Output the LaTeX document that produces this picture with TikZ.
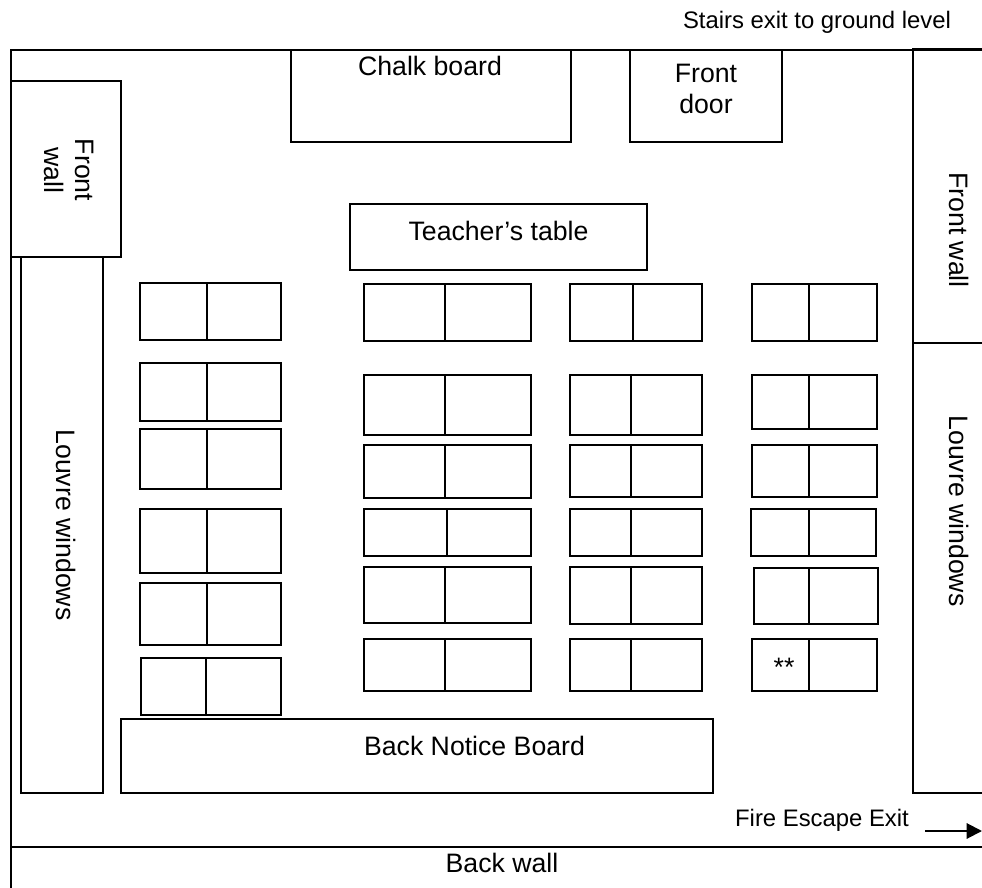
\documentclass[tikz,border=0pt]{standalone}
\usepackage{fontspec}
\setmainfont{Liberation Sans}
\usetikzlibrary{arrows.meta}
\tikzset{%
	room line/.style={
		draw,
		line width=1.2pt
	},
	heavy line/.style={
		draw,
		line width=1.6pt
	},
	room label/.style={
		inner sep=0pt,
		anchor=base,
		font=\fontsize{20}{23.3}\selectfont
	},
	small label/.style={
		room label,
		font=\fontsize{17.9}{21}\selectfont
	},
	side label/.style={
		room label,
		rotate=-90
	},
}

\begin{document}
\begin{tikzpicture}[x=0.75pt, y=-0.75pt]
	\useasboundingbox (0,0) rectangle (982,888);
	% room outline
	\draw[heavy line] (11,888) -- (11,50) -- (982,50);
	\draw[heavy line] (11,847) -- (982,847);
	% side walls and windows
	\draw[room line, fill=white] (11,81) rectangle (121,257);
	\draw[room line] (21,257) rectangle (103,793);
	\draw[room line] (982,49) -- (913,49) -- (913,793) -- (982,793);
	\draw[room line] (913,343) -- (982,343);
	% front and back
	\draw[heavy line] (291,50) rectangle (571,142);
	\draw[heavy line] (630,50) rectangle (782,142);
	\draw[room line] (350,204) rectangle (647,270);
	\draw[room line] (121,719) rectangle (713,793);
	% desks
	\foreach \xa/\xm/\xb/\ya/\yb in {
			140/207/281/283/340, 140/207/281/363/421, 140/207/281/429/489,
			140/207/281/509/573, 140/207/281/583/645, 141/206/281/658/715,
			364/445/531/284/341, 364/445/531/375/435, 364/445/531/445/498,
			364/447/531/509/556, 364/445/531/567/623, 364/445/531/639/691,
			570/633/702/284/341, 570/631/702/375/435, 570/631/702/445/497,
			570/631/702/509/556, 570/631/702/567/624, 570/631/702/639/691,
			752/809/877/284/341, 752/809/877/375/429, 752/809/877/445/497,
			751/809/876/509/556, 754/809/878/568/624, 752/809/877/639/691}{
		\draw[room line] (\xa,\ya) rectangle (\xb,\yb);
		\draw[room line] (\xm,\ya) -- (\xm,\yb);
	}
	% labels
	\node[small label] (stairs) at (817,29) {Stairs exit to ground level};
	\node[room label] (chalk) at (430,76) {Chalk board};
	\node[room label, align=center, anchor=center] (door) at (706,89) {Front\\door};
	\node[room label] (table) at (498.5,240) {Teacher’s table};
	\node[room label, align=center, anchor=center, rotate=-90] (leftwall) at (69,170) {Front\\wall};
	\node[side label] (rightwall) at (949,230) {Front wall};
	\node[side label] (leftwin) at (56,525) {Louvre windows};
	\node[side label] (rightwin) at (949,511) {Louvre windows};
	\node[room label] (star) at (784,676) {**};
	\node[room label] (board) at (474.5,755) {Back Notice Board};
	\node[small label] (fire) at (822,826) {Fire Escape Exit};
	\node[room label] (back) at (502,872) {Back wall};
	% exit arrow
	\coordinate (exitfrom) at (925,831);
	\coordinate (exitto) at (982,831);
	\draw[-{Triangle[length=11.5pt, width=11.5pt]}, line width=1.5pt] (exitfrom) -- (exitto);
\end{tikzpicture}
\end{document}
